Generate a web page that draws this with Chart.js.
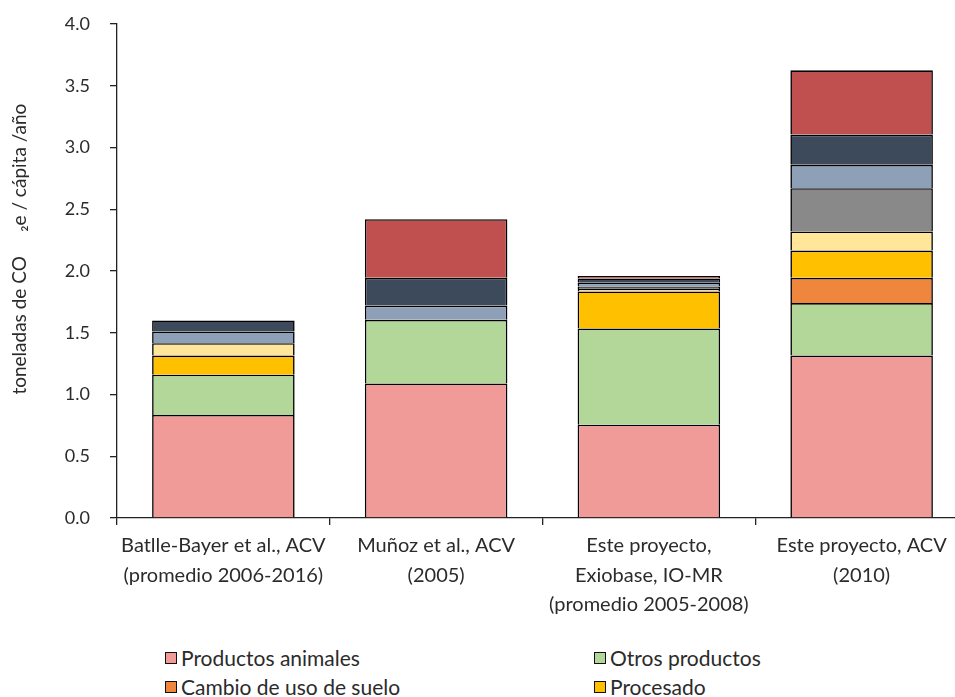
<!DOCTYPE html>
<html>
<head>
    <meta charset="utf-8">
    <title>Huella de carbono de la dieta</title>
    <script src="https://cdn.jsdelivr.net/npm/chart.js"></script>
    <style>
        html, body { margin: 0; padding: 0; background: #fff; overflow: hidden; }
        #wrap { position: absolute; left: 0; top: 0; width: 985px; height: 625px; }
        #legend {
            position: absolute; left: 165px; top: 643px; width: 780px;
            display: grid; grid-template-columns: 429px 351px; row-gap: 0;
            font-family: Lato, "Open Sans", sans-serif; font-size: 21px; color: #2b2b2b;
        }
        .item { display: flex; align-items: center; height: 29px; white-space: nowrap; }
        .box { width: 10px; height: 10px; border: 1.5px solid #111; margin-right: 4px; flex: none; }
    </style>
</head>
<body>
    <div id="wrap"><canvas id="co2Chart"></canvas></div>
    <div id="legend"></div>

    <script>
        // Estudios comparados (cada uno con su etiqueta en varias líneas)
        const estudios = [
            ['Batlle-Bayer et al., ACV', '(promedio 2006-2016)'],
            ['Muñoz et al., ACV', '(2005)'],
            ['Este proyecto,', 'Exiobase, IO-MR', '(promedio 2005-2008)'],
            ['Este proyecto, ACV', '(2010)']
        ];

        // toneladas CO2e / cápita / año por etapa
        const productosAnimales = [0.835, 1.09, 0.755, 1.315];
        const otrosProductos    = [0.325, 0.515, 0.78, 0.425];
        const cambioUsoSuelo    = [null, null, null, 0.205];
        const procesado         = [0.155, null, 0.30, 0.22];
        const envasado          = [0.10, null, 0.02, 0.155];
        const transporte        = [null, null, 0.02, 0.35];
        const distribucion      = [0.095, 0.115, 0.03, 0.19];
        const venta             = [0.09, 0.225, 0.035, 0.245];
        const residuos          = [null, 0.475, 0.02, 0.52];

        const yTicks = [0, 0.5, 1, 1.5, 2, 2.5, 3, 3.5, 4];

        const series = [
            { label: 'Productos animales', data: productosAnimales, color: '#F19B99' },
            { label: 'Otros productos', data: otrosProductos, color: '#B3D699' },
            { label: 'Cambio de uso de suelo', data: cambioUsoSuelo, color: '#EE873D' },
            { label: 'Procesado', data: procesado, color: '#FFC000' },
            { label: 'Envasado', data: envasado, color: '#FFE699' },
            { label: 'Transporte', data: transporte, color: '#898989' },
            { label: 'Distribución', data: distribucion, color: '#8EA0B8' },
            { label: 'Venta', data: venta, color: '#3D4A5C' },
            { label: 'Residuos', data: residuos, color: '#C0504F' }
        ];

        const fontFamily = 'Lato, "Open Sans", sans-serif';
        const textColor = '#2b2b2b';

        const ctx = document.getElementById('co2Chart').getContext('2d');
        const chart = new Chart(ctx, {
            type: 'bar',
            data: {
                labels: estudios,
                datasets: series.map(s => ({
                    label: s.label,
                    data: s.data,
                    backgroundColor: s.color,
                    borderColor: '#000',
                    borderWidth: 1.6,
                    categoryPercentage: 1,
                    barPercentage: 0.67
                }))
            },
            options: {
                responsive: true,
                maintainAspectRatio: false,
                animation: false,
                layout: { padding: { top: 24, left: 0, right: 17, bottom: 0 } },
                plugins: {
                    legend: { display: false },
                    tooltip: { enabled: false }
                },
                scales: {
                    x: {
                        stacked: true,
                        offset: true,
                        grid: {
                            display: true,
                            offset: true,
                            drawOnChartArea: false,
                            drawTicks: true,
                            tickLength: 7,
                            color: '#222',
                            lineWidth: 1.3
                        },
                        border: { display: true, color: '#222', width: 1.3 },
                        ticks: {
                            color: textColor,
                            font: { family: fontFamily, size: 20, lineHeight: 1.48 },
                            padding: 6,
                            maxRotation: 0,
                            autoSkip: false
                        },
                        afterFit: (scale) => { scale.height = 107; scale.paddingTop = 0; }
                    },
                    y: {
                        stacked: true,
                        min: 0,
                        max: 4,
                        afterBuildTicks: (scale) => { scale.ticks = yTicks.map(v => ({ value: v })); },
                        grid: {
                            display: true,
                            drawOnChartArea: false,
                            drawTicks: true,
                            tickLength: 7,
                            color: '#222',
                            lineWidth: 1.3
                        },
                        border: { display: true, color: '#222', width: 1.3 },
                        ticks: {
                            color: textColor,
                            font: { family: fontFamily, size: 18 },
                            padding: 20,
                            callback: (v) => Number(v).toFixed(1)
                        },
                        title: {
                            display: true,
                            text: '         toneladas de CO     ₂e / cápita /año',
                            color: textColor,
                            font: { family: fontFamily, size: 19 },
                            padding: { top: 8, bottom: 0 }
                        },
                        afterFit: (scale) => {
                            scale.width = 117;
                            scale.paddingTop = 0;
                            scale.paddingBottom = 0;
                        }
                    }
                }
            }
        });

        // Leyenda en dos columnas a partir de los datasets
        const legend = document.getElementById('legend');
        chart.data.datasets.forEach(ds => {
            const item = document.createElement('div');
            item.className = 'item';
            const box = document.createElement('span');
            box.className = 'box';
            box.style.background = ds.backgroundColor;
            item.appendChild(box);
            item.appendChild(document.createTextNode(ds.label));
            legend.appendChild(item);
        });
    </script>
</body>
</html>
